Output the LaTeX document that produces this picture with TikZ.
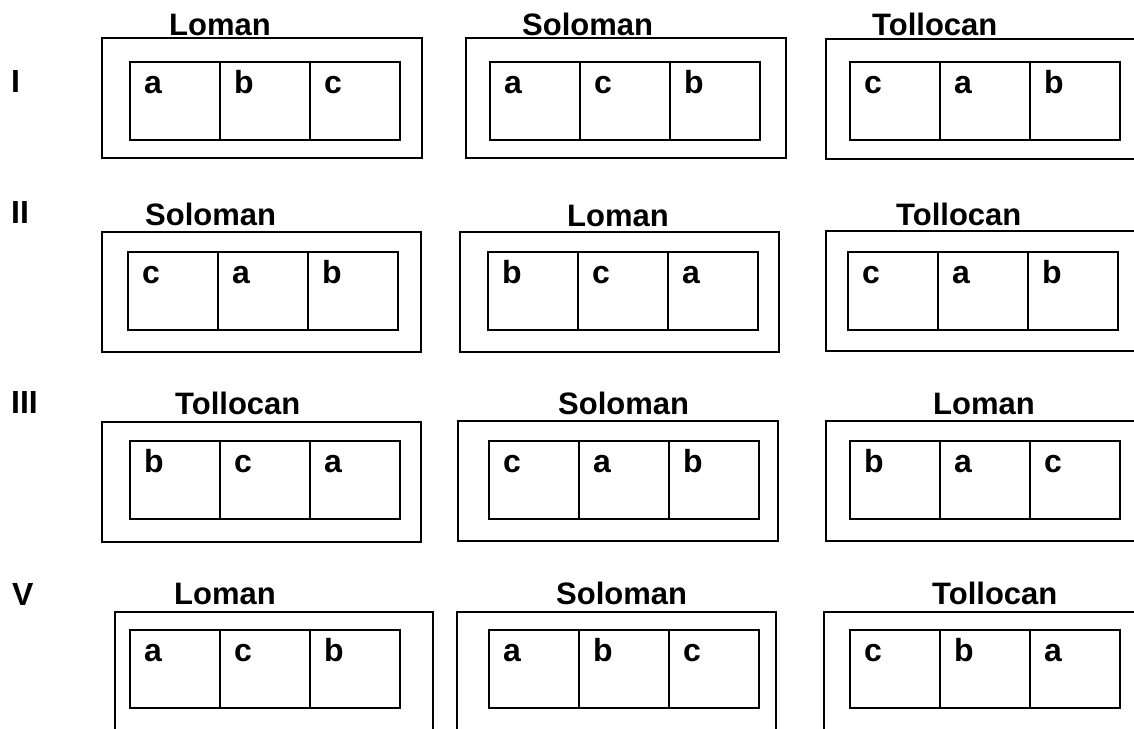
\documentclass[tikz,border=0pt]{standalone}
\usepackage{fontspec}
\setmainfont{Liberation Sans}
\newcommand{\panelbox}[9]{%
  \node[outerbox, minimum width=#4] (#1) at (#2,#3) {};
  \node[cellbox] (#1c1) at (#5,#6) {};
  \node[cellbox] (#1c2) at (#1c1.north east) {};
  \node[cellbox] (#1c3) at (#1c2.north east) {};
  \node[letter] (#1l1) at ([shift={(14,31)}]#1c1.north west) {#7};
  \node[letter] (#1l2) at ([shift={(14,31)}]#1c2.north west) {#8};
  \node[letter] (#1l3) at ([shift={(14,31)}]#1c3.north west) {#9};
}
\begin{document}
\begin{tikzpicture}[x=1pt,y=-1pt,
  outerbox/.style={draw, line width=2.8pt, minimum height=120pt, anchor=north west, inner sep=0pt, outer sep=0pt},
  cellbox/.style={draw, line width=2.2pt, minimum width=90pt, minimum height=78pt, anchor=north west, inner sep=0pt, outer sep=0pt},
  letter/.style={anchor=base west, inner sep=0pt, font=\fontsize{32}{38}\selectfont\bfseries},
  title/.style={anchor=base west, inner sep=0pt, font=\fontsize{31}{37}\selectfont\bfseries},
  rowlabel/.style={anchor=base west, inner sep=0pt, font=\fontsize{32}{38}\selectfont\bfseries}]
\clip (0,0) rectangle (1134,728);
\useasboundingbox (0,0) rectangle (1134,728);

% row labels
\node[rowlabel] (r1) at (11,92) {I};
\node[rowlabel] (r2) at (11,223) {II};
\node[rowlabel] (r3) at (11,413) {III};
\node[rowlabel] (r5) at (12,605) {V};

% row I
\panelbox{IA}{102}{38}{320pt}{130}{62}{a}{b}{c}
\panelbox{IB}{466}{38}{320pt}{490}{62}{a}{c}{b}
\panelbox{IC}{826}{39}{320pt}{850}{62}{c}{a}{b}
\node[title] (tIA) at (169,35) {Loman};
\node[title] (tIB) at (522,35) {Soloman};
\node[title] (tIC) at (872,35) {Tollocan};

% row II
\panelbox{IIA}{102}{232}{319pt}{128}{252}{c}{a}{b}
\panelbox{IIB}{460}{232}{319pt}{488}{252}{b}{c}{a}
\panelbox{IIC}{826}{231}{320pt}{848}{252}{c}{a}{b}
\node[title] (tIIA) at (145,225) {Soloman};
\node[title] (tIIB) at (567,226) {Loman};
\node[title] (tIIC) at (896,225) {Tollocan};

% row III
\panelbox{IIIA}{102}{422}{319pt}{130}{441}{b}{c}{a}
\panelbox{IIIB}{458}{421}{320pt}{489}{441}{c}{a}{b}
\panelbox{IIIC}{826}{421}{320pt}{850}{441}{b}{a}{c}
\node[title] (tIIIA) at (175,414) {Tollocan};
\node[title] (tIIIB) at (558,414) {Soloman};
\node[title] (tIIIC) at (933,414) {Loman};

% row V
\panelbox{VA}{115}{612}{318pt}{130}{630}{a}{c}{b}
\panelbox{VB}{457}{612}{319pt}{489}{630}{a}{b}{c}
\panelbox{VC}{824}{612}{320pt}{850}{630}{c}{b}{a}
\node[title] (tVA) at (174,604) {Loman};
\node[title] (tVB) at (556,604) {Soloman};
\node[title] (tVC) at (932,604) {Tollocan};
\end{tikzpicture}
\end{document}
